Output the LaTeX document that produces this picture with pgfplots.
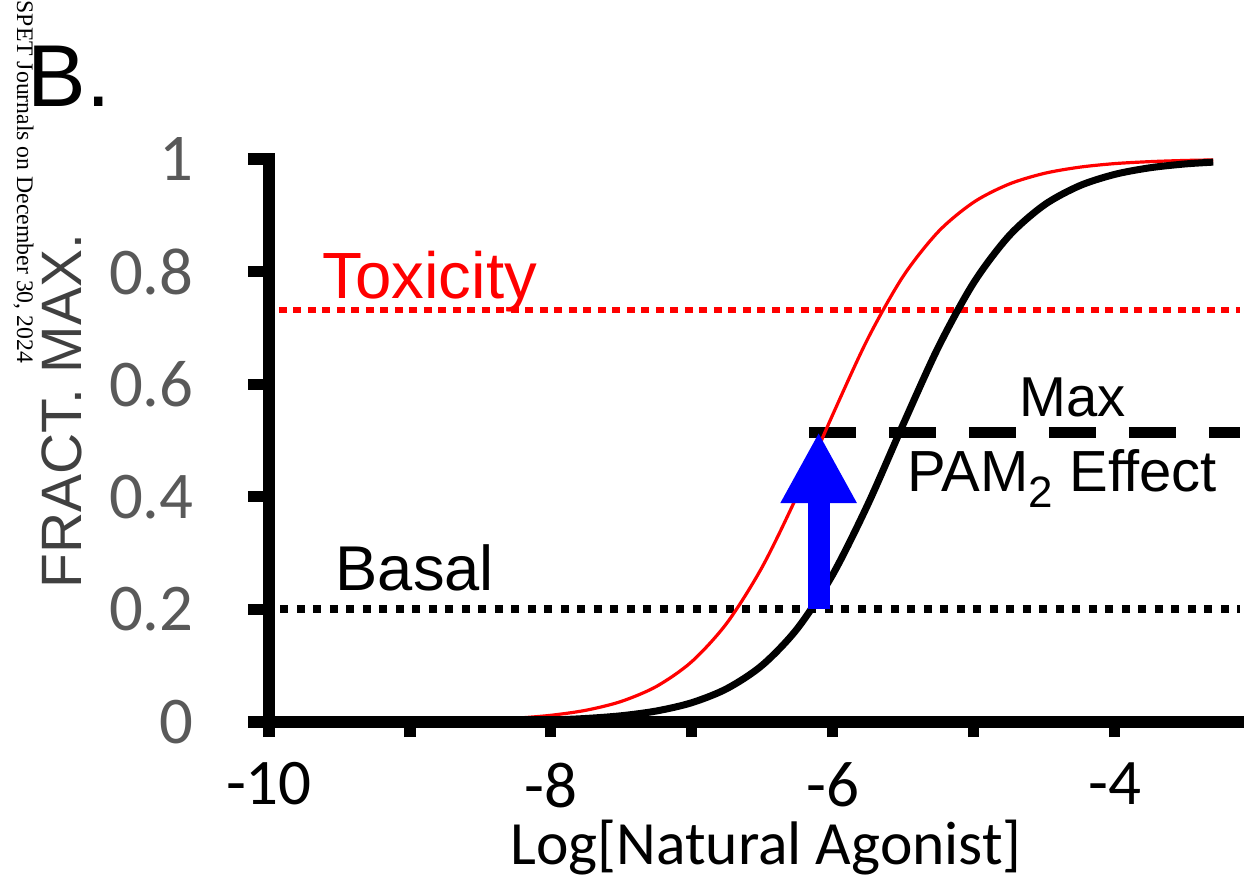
\documentclass[border=0pt]{standalone}
\usepackage{pgfplots}
\pgfplotsset{compat=1.18}
\usepackage{fontspec}
\setmainfont{Liberation Sans}
\newfontfamily\calibri{Carlito}
\newfontfamily\wmark{Liberation Serif}
\usetikzlibrary{arrows.meta}
\definecolor{tickgray}{RGB}{89,89,89}
\definecolor{labgray}{RGB}{64,64,64}

% fraction of max response vs log agonist concentration
\pgfplotstableread{
x      tox     pam
-8.50  0.0038  0.0011
-8.25  0.0067  0.0020
-8.00  0.0119  0.0035
-7.75  0.0209  0.0063
-7.50  0.0366  0.0111
-7.25  0.0633  0.0196
-7.00  0.1073  0.0343
-6.75  0.1761  0.0594
-6.50  0.2755  0.1009
-6.25  0.4034  0.1663
-6.00  0.5459  0.2619
-5.75  0.6813  0.3869
-5.50  0.7918  0.5288
-5.25  0.8711  0.6661
-5.00  0.9232  0.7801
-4.75  0.9553  0.8632
-4.50  0.9744  0.9182
-4.25  0.9854  0.9523
-4.00  0.9918  0.9726
-3.75  0.9953  0.9844
-3.50  0.9974  0.9912
-3.30  0.9983  0.9944
}\curves

\begin{document}
\begin{tikzpicture}
\useasboundingbox (0,0) rectangle (12.44,8.92);

\node[rotate=-90, anchor=base west, inner sep=0pt, font=\wmark\fontsize{6.75}{8}\selectfont]
  at (0.17,8.92) {SPET Journals on December 30, 2024};
\node[anchor=base west, inner sep=0pt, font=\fontsize{25}{28}\selectfont]
  at (0.27,7.85) {B.};

\begin{axis}[
    at={(2.69cm,1.70cm)}, anchor=south west,
    scale only axis,
    width=9.71cm, height=5.63cm,
    xmin=-10, xmax=-3.11,
    ymin=0, ymax=1,
    axis lines=left,
    axis line style={-, line width=3.3pt, line cap=rect},
    axis on top,
    clip=false,
    tick align=outside,
    major tick length=0.21cm,
    tick style={black, line width=3.2pt},
    xtick style={/pgfplots/major tick length=0.15cm},
    xtick={-10,-9,-8,-7,-6,-5,-4},
    xticklabels={-10,,-8,,-6,,-4},
    ytick={0,0.2,0.4,0.6,0.8,1},
    /pgf/number format/assume math mode=true,
    xticklabel style={font=\calibri\fontsize{18.5}{20}\selectfont, text=black, inner sep=0pt, yshift=-0.19cm},
    yticklabel style={font=\calibri\fontsize{19}{20}\selectfont, text=tickgray, xshift=-0.42cm},
    xlabel={Log[Natural Agonist]},
    xlabel style={font=\calibri\fontsize{17.5}{20}\selectfont, inner sep=0pt, at={(axis description cs:0.512,-0.223)}, anchor=center},
    ylabel={FRACT. MAX.},
    ylabel style={font=\fontsize{16.2}{20}\selectfont, text=labgray, at={(axis description cs:-0.2134,0.552)}, anchor=center, rotate=0},
]
% reference levels
\addplot[red, line width=0.06cm, dash pattern=on 0.08cm off 0.065cm] coordinates {(-9.93,0.732) (-3.11,0.732)};
\addplot[black, line width=0.08cm, dash pattern=on 0.08cm off 0.085cm] coordinates {(-9.92,0.2) (-3.11,0.2)};
\addplot[black, line width=0.11cm, dash pattern=on 0.47cm off 0.33cm] coordinates {(-6.17,0.515) (-3.11,0.515)};

% concentration-response curves
\addplot[red, line width=0.032cm, smooth] table[x=x, y=tox] {\curves};
\addplot[black, line width=0.07cm, smooth] table[x=x, y=pam] {\curves};

% PAM shift arrow
\addplot[blue, line width=0.22cm, -{Triangle[width=0.71cm, length=0.71cm]}] coordinates {(-6.10,0.2) (-6.10,0.515)};

\node[anchor=base west, inner sep=0pt, text=red, font=\fontsize{18.6}{20}\selectfont] at (axis cs:-9.624,0.753) {Toxicity};
\node[anchor=base west, inner sep=0pt, font=\fontsize{18}{20}\selectfont] at (axis cs:-9.531,0.234) {Basal};
\node[anchor=base west, inner sep=0pt, font=\fontsize{16}{20}\selectfont] at (axis cs:-4.68,0.542) {Max};
\node[anchor=base west, inner sep=0pt, font=\fontsize{16.5}{20}\selectfont] at (axis cs:-5.475,0.409)
  {PAM\raisebox{-0.16cm}{\fontsize{12.5}{14}\selectfont 2} Effect};
\end{axis}
\end{tikzpicture}
\end{document}
